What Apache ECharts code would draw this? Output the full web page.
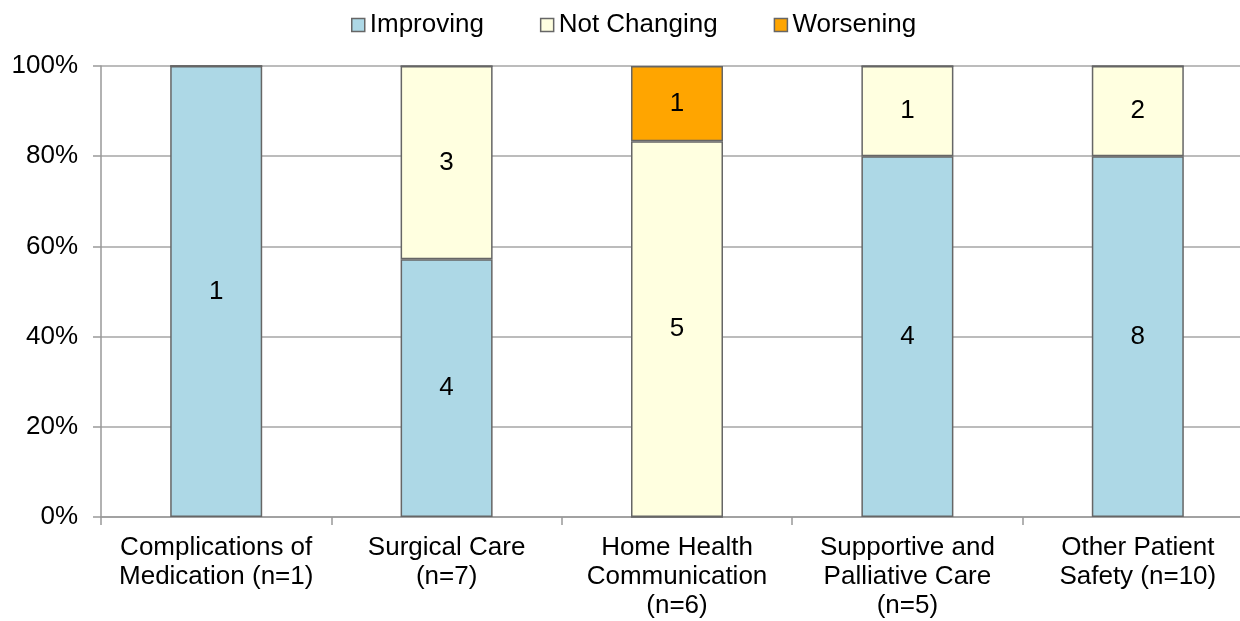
<!DOCTYPE html>
<html>
<head>
<meta charset="utf-8">
<script src="https://cdn.jsdelivr.net/npm/echarts@6/dist/echarts.min.js"></script>
<style>
  html, body { margin: 0; padding: 0; background: #fff; }
  #chart { width: 1240px; height: 621px; }
</style>
</head>
<body>
<div id="chart"></div>
<script>
var categories = [
    'Complications of\nMedication (n=1)',
    'Surgical Care\n(n=7)',
    'Home Health\nCommunication\n(n=6)',
    'Supportive and\nPalliative Care\n(n=5)',
    'Other Patient\nSafety (n=10)'
];
var improving = [1, 4, 0, 4, 8];
var notChanging = [0, 3, 5, 1, 2];
var worsening = [0, 0, 1, 0, 0];

var totals = categories.map(function (c, i) {
    return improving[i] + notChanging[i] + worsening[i];
});

function toPercent(list) {
    return list.map(function (v, i) {
        return { value: v / totals[i] * 100, count: v };
    });
}

var chart = echarts.init(document.getElementById('chart'));

var font = 'Liberation Sans, Arial, sans-serif';

function makeSeries(name, list, color) {
    return {
        name: name,
        type: 'bar',
        stack: 'total',
        barWidth: 92,
        data: toPercent(list),
        itemStyle: {
            color: color,
            borderColor: '#666666',
            borderWidth: 1.5
        },
        label: {
            show: true,
            position: 'inside',
            fontFamily: font,
            fontSize: 26,
            color: '#000',
            formatter: function (p) {
                return p.data.count > 0 ? p.data.count : '';
            }
        }
    };
}

var legendIcon = { borderColor: '#666', borderWidth: 1.5 };

var option = {
    animation: false,
    textStyle: { fontFamily: font },
    legend: {
        top: 7,
        left: 346,
        icon: 'rect',
        itemWidth: 13,
        itemHeight: 13,
        itemGap: 56,
        textStyle: { fontSize: 26, color: '#000', fontFamily: font },
        data: [
            { name: 'Improving', itemStyle: legendIcon },
            { name: 'Not Changing', itemStyle: legendIcon },
            { name: 'Worsening', itemStyle: legendIcon }
        ]
    },
    // plot runs a little past the right edge, like the original
    grid: {
        left: 101,
        width: 1152,
        top: 66,
        bottom: 104,
        outerBoundsMode: 'none'
    },
    xAxis: {
        type: 'category',
        data: categories,
        axisLine: { lineStyle: { color: '#999', width: 1.5 } },
        axisTick: { show: true, length: 8, lineStyle: { color: '#999', width: 1.5 } },
        axisLabel: {
            interval: 0,
            margin: 16,
            fontSize: 26,
            lineHeight: 29,
            color: '#000',
            fontFamily: font
        }
    },
    yAxis: {
        type: 'value',
        min: 0,
        max: 100,
        interval: 20,
        axisLine: { show: true, lineStyle: { color: '#999', width: 1.5 } },
        axisTick: { show: true, length: 8, lineStyle: { color: '#999', width: 1.5 } },
        splitLine: { lineStyle: { color: '#a6a6a6', width: 1.5 } },
        axisLabel: {
            margin: 23,
            fontSize: 26,
            color: '#000',
            fontFamily: font,
            formatter: '{value}%'
        }
    },
    series: [
        makeSeries('Improving', improving, '#add8e6'),
        makeSeries('Not Changing', notChanging, '#ffffe0'),
        makeSeries('Worsening', worsening, '#ffa500')
    ]
};

chart.setOption(option);
</script>
</body>
</html>
